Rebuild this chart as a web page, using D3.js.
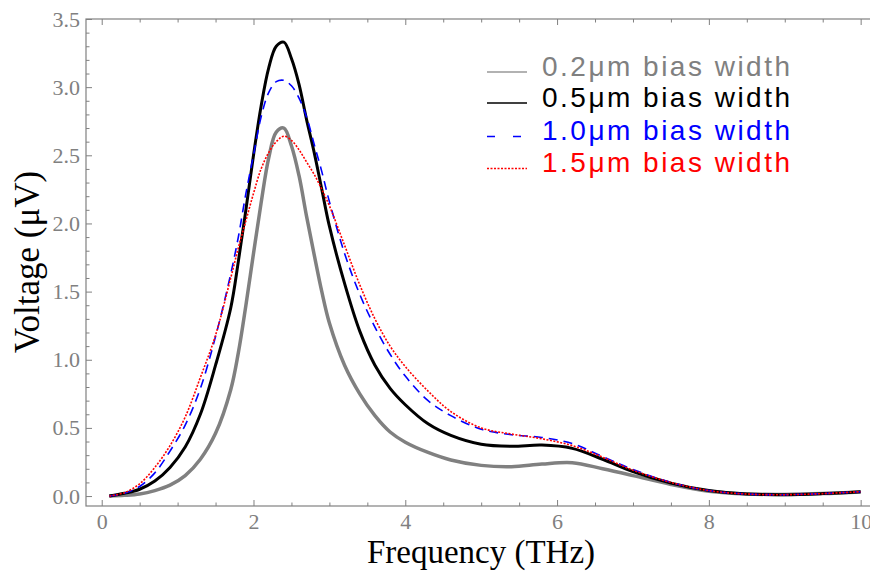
<!DOCTYPE html>
<html>
<head>
<meta charset="utf-8">
<script src="https://cdn.jsdelivr.net/npm/d3@7"></script>
<style>
  body { margin: 0; background: #fff; }
  .tick-label text { font-family: 'Liberation Serif', 'Times New Roman', serif; font-size: 22px; fill: #808080; }
  .axis-title { font-family: 'Liberation Serif', 'Times New Roman', serif; font-size: 33px; fill: #000; }
  .legend text { font-family: 'Liberation Sans', Arial, sans-serif; font-size: 28px; }
</style>
</head>
<body>
<script>
// frequencies (THz) shared by all four curves
const freqs = [0.1, 0.3, 0.5, 0.7, 0.9, 1.1, 1.3, 1.5, 1.7, 1.8, 1.9, 2.0, 2.1, 2.2, 2.3, 2.4, 2.5, 2.6, 2.7, 2.8, 2.9, 3.0,
  3.2, 3.4, 3.6, 3.8, 4.0, 4.3, 4.6, 5.0, 5.4, 5.8, 6.2, 6.6, 7.0, 7.5, 8.0, 8.5, 9.0, 9.5, 10.0];

// voltage (uV) per bias width
const width02 = [0.0, 0.005, 0.015, 0.04, 0.08, 0.15, 0.27, 0.46, 0.78, 1.05, 1.40, 1.78, 2.15, 2.48, 2.67, 2.70, 2.57, 2.35, 2.05, 1.77, 1.50, 1.27,
  0.96, 0.75, 0.59, 0.47, 0.395, 0.32, 0.265, 0.225, 0.215, 0.235, 0.245, 0.20, 0.15, 0.085, 0.035, 0.015, 0.012, 0.018, 0.03];
const width05 = [0.0, 0.02, 0.05, 0.11, 0.21, 0.36, 0.60, 0.96, 1.38, 1.72, 2.10, 2.50, 2.86, 3.14, 3.30, 3.33, 3.21, 3.02, 2.76, 2.52, 2.25, 1.98,
  1.56, 1.21, 0.96, 0.79, 0.67, 0.53, 0.445, 0.38, 0.365, 0.374, 0.35, 0.27, 0.18, 0.095, 0.04, 0.015, 0.01, 0.018, 0.032];
const width10 = [0.0, 0.02, 0.07, 0.17, 0.33, 0.52, 0.79, 1.17, 1.63, 1.90, 2.22, 2.50, 2.78, 2.96, 3.04, 3.05, 3.01, 2.92, 2.78, 2.58, 2.38, 2.16,
  1.78, 1.48, 1.24, 1.04, 0.88, 0.70, 0.59, 0.49, 0.45, 0.43, 0.385, 0.29, 0.195, 0.10, 0.04, 0.015, 0.01, 0.018, 0.032];
const width15 = [0.0, 0.025, 0.09, 0.21, 0.37, 0.58, 0.87, 1.18, 1.60, 1.82, 2.02, 2.22, 2.40, 2.52, 2.60, 2.64, 2.61, 2.54, 2.45, 2.36, 2.25, 2.13,
  1.84, 1.55, 1.30, 1.10, 0.95, 0.77, 0.62, 0.50, 0.455, 0.42, 0.37, 0.285, 0.19, 0.10, 0.04, 0.015, 0.01, 0.018, 0.032];

const legendLabels = ['0.2μm bias width', '0.5μm bias width', '1.0μm bias width', '1.5μm bias width'];
const xMajorTicks = [0, 2, 4, 6, 8, 10];
const yMajorTicks = [0.0, 0.5, 1.0, 1.5, 2.0, 2.5, 3.0, 3.5];

const styles = [
  { color: '#808080', width: 3.5, dash: null, legendDash: null },
  { color: '#000000', width: 3, dash: null, legendDash: null },
  { color: '#0000ff', width: 1.6, dash: '9,6', legendDash: '8,18' },
  { color: '#ff0000', width: 1.6, dash: '2,1.5', legendDash: '2,1.5' }
];

const svg = d3.select('body').append('svg')
  .attr('width', 870)
  .attr('height', 576);

const frame = { left: 86, top: 19, right: 869, bottom: 506 };

const xScale = d3.scaleLinear()
  .domain([-0.207, 10.11])
  .range([frame.left, frame.right]);

const yScale = d3.scaleLinear()
  .domain([-0.073, 3.5])
  .range([frame.bottom, frame.top]);

const frameColor = '#808080';

// frame
svg.append('rect')
  .attr('x', frame.left)
  .attr('y', frame.top)
  .attr('width', frame.right - frame.left + 10)
  .attr('height', frame.bottom - frame.top)
  .attr('fill', 'none')
  .attr('stroke', frameColor)
  .attr('stroke-width', 1.2);

const minorX = d3.range(0, 10.01, 0.5).filter(d => !xMajorTicks.includes(d));
const minorY = d3.range(0, 3.51, 0.1).map(d => +d.toFixed(1)).filter(d => Math.abs(d * 2 - Math.round(d * 2)) > 0.01);

const styleAxis = g => {
  g.select('path.domain').remove();
  g.selectAll('line').attr('stroke', frameColor);
  g.attr('class', 'tick-label');
  g.selectAll('text').attr('fill', null);
};

// bottom axis
const bottomAxis = svg.append('g')
  .attr('transform', `translate(0, ${frame.bottom})`)
  .call(d3.axisBottom(xScale).tickValues(xMajorTicks).tickSizeInner(-6).tickSizeOuter(0).tickPadding(7).tickFormat(d3.format('d')))
  .call(styleAxis);
bottomAxis.selectAll('text').attr('font-family', null).attr('font-size', null);
svg.append('g')
  .attr('transform', `translate(0, ${frame.bottom})`)
  .call(d3.axisBottom(xScale).tickValues(minorX).tickSizeInner(-3.5).tickSizeOuter(0).tickFormat(''))
  .call(styleAxis);

// top ticks
svg.append('g')
  .attr('transform', `translate(0, ${frame.top})`)
  .call(d3.axisTop(xScale).tickValues(xMajorTicks).tickSizeInner(-6).tickSizeOuter(0).tickFormat(''))
  .call(styleAxis);
svg.append('g')
  .attr('transform', `translate(0, ${frame.top})`)
  .call(d3.axisTop(xScale).tickValues(minorX).tickSizeInner(-3.5).tickSizeOuter(0).tickFormat(''))
  .call(styleAxis);

// left axis
const leftAxis = svg.append('g')
  .attr('transform', `translate(${frame.left}, 0)`)
  .call(d3.axisLeft(yScale).tickValues(yMajorTicks).tickSizeInner(-6).tickSizeOuter(0).tickPadding(6).tickFormat(d3.format('.1f')))
  .call(styleAxis);
leftAxis.selectAll('text').attr('font-family', null).attr('font-size', null);
svg.append('g')
  .attr('transform', `translate(${frame.left}, 0)`)
  .call(d3.axisLeft(yScale).tickValues(minorY).tickSizeInner(-3.5).tickSizeOuter(0).tickFormat(''))
  .call(styleAxis);

// axis titles
svg.append('text')
  .attr('class', 'axis-title')
  .attr('x', 481)
  .attr('y', 563)
  .attr('text-anchor', 'middle')
  .text('Frequency (THz)');

svg.append('text')
  .attr('class', 'axis-title')
  .attr('transform', `translate(39, 262) rotate(-90)`)
  .attr('text-anchor', 'middle')
  .style('font-size', '35px')
  .text('Voltage (μV)');

// curves
svg.append('clipPath')
  .attr('id', 'plot-clip')
  .append('rect')
  .attr('x', frame.left)
  .attr('y', frame.top)
  .attr('width', frame.right - frame.left)
  .attr('height', frame.bottom - frame.top);

const lineGenerator = d3.line()
  .x(d => xScale(d[0]))
  .y(d => yScale(d[1]))
  .curve(d3.curveCatmullRom.alpha(0.5));

const allSeries = [width02, width05, width10, width15];

svg.append('g')
  .attr('clip-path', 'url(#plot-clip)')
  .selectAll('path')
  .data(allSeries)
  .enter()
  .append('path')
    .attr('d', values => lineGenerator(freqs.map((f, i) => [f, values[i]])))
    .attr('fill', 'none')
    .attr('stroke', (d, i) => styles[i].color)
    .attr('stroke-width', (d, i) => styles[i].width)
    .attr('stroke-dasharray', (d, i) => styles[i].dash)
    .attr('stroke-linejoin', 'round');

// legend
const legend = svg.append('g').attr('class', 'legend');
const legendRows = [72, 103, 136.5, 168.5];
legendLabels.forEach((label, i) => {
  legend.append('line')
    .attr('x1', 487)
    .attr('x2', 527)
    .attr('y1', legendRows[i])
    .attr('y2', legendRows[i])
    .attr('stroke', i === 0 ? '#999999' : styles[i].color)
    .attr('stroke-width', 1.5)
    .attr('stroke-dasharray', styles[i].legendDash);
  legend.append('text')
    .attr('x', 542)
    .attr('y', legendRows[i] + 3.5)
    .attr('fill', styles[i].color)
    .attr('textLength', 248)
    .attr('lengthAdjust', 'spacing')
    .text(label);
});
</script>
</body>
</html>
